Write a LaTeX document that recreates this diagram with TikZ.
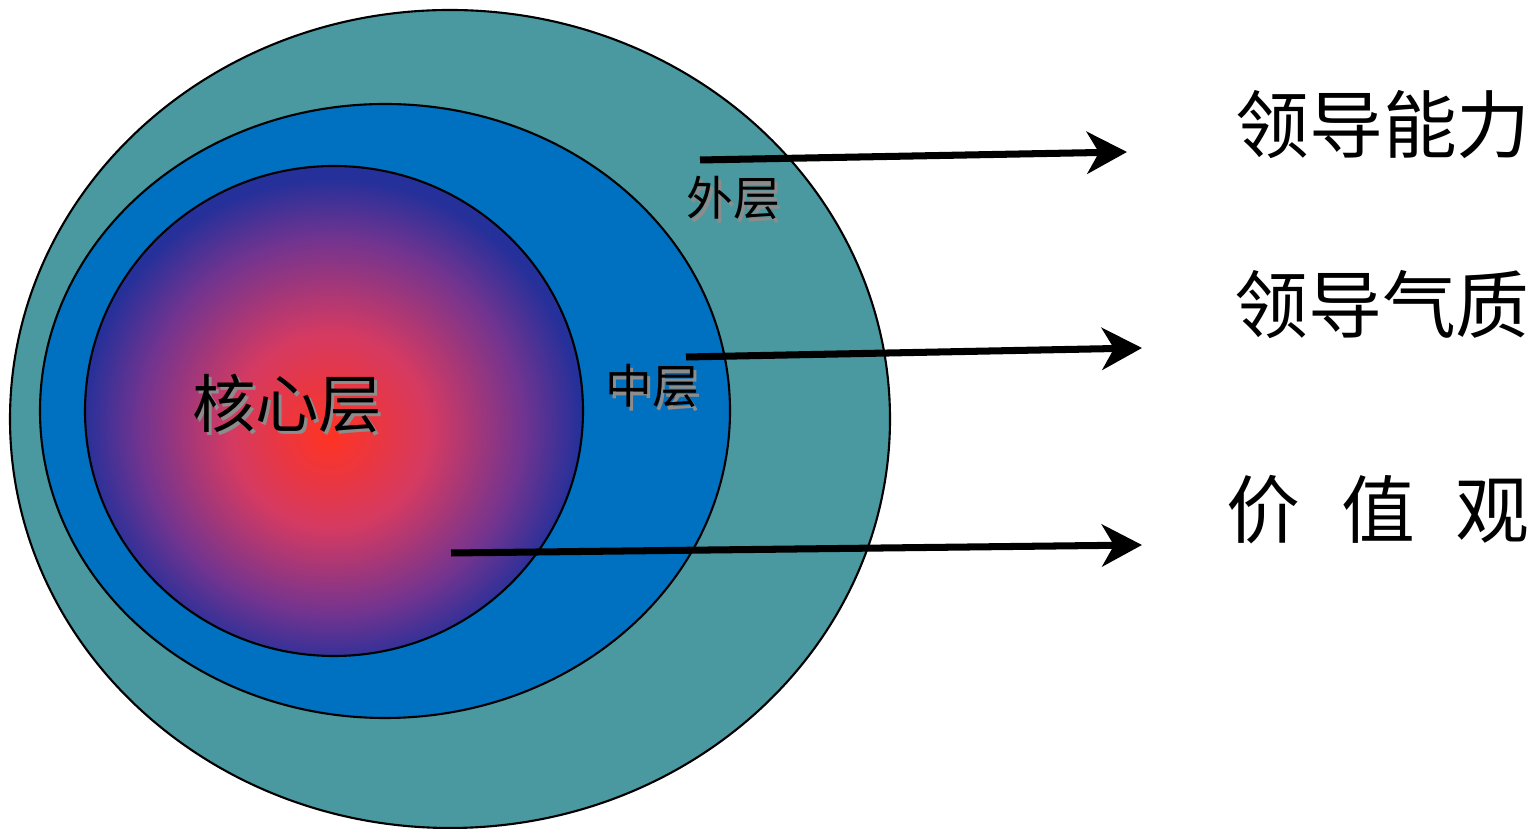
\documentclass[tikz,border=0pt]{standalone}
\usepackage{fontspec}
\newfontfamily\cjk{Noto Sans CJK SC}
\usetikzlibrary{arrows.meta,positioning}
\definecolor{outerteal}{HTML}{4A99A0}
\definecolor{midblue}{HTML}{0070C0}
\definecolor{corered}{HTML}{FF3322}
\definecolor{coremid}{HTML}{D43A62}
\definecolor{corepurple}{HTML}{74348F}
\definecolor{coreblue}{HTML}{25309A}
\pgfdeclareradialshading{coreglow}{\pgfpoint{-0.5bp}{-2.5bp}}{%
  color(0bp)=(corered);color(10bp)=(coremid);color(19bp)=(corepurple);
  color(25bp)=(coreblue);color(50bp)=(coreblue)}
% label with a soft drop shadow
\newcommand{\shadowtext}[1]{\rlap{\kern0.9pt\raisebox{-0.9pt}{\color{black!45}#1}}#1}

\begin{document}
\begin{tikzpicture}[
  layer/.style={draw=black,line width=0.6pt},
  tag/.style={font=\cjk\fontsize{13.3pt}{13.3pt}\selectfont,inner sep=0pt},
  trait/.style={font=\cjk\fontsize{21pt}{21pt}\selectfont,inner sep=0pt},
  flow/.style={-{Stealth[length=4mm,width=4.2mm,inset=1.2mm]},line width=2pt}]
\useasboundingbox (0,0) rectangle (15.39,8.29);
\filldraw[layer,fill=outerteal] (4.50,4.10) ellipse [x radius=4.40,y radius=4.09];
\filldraw[layer,fill=midblue] (3.85,4.18) ellipse [x radius=3.45,y radius=3.07];
\draw[layer,shading=coreglow] (3.34,4.18) ellipse [x radius=2.49,y radius=2.45];
\node[tag] (outer) at (7.33,6.29) {\shadowtext{外层}};
\node[tag] (middle) at (6.52,4.41) {\shadowtext{中层}};
\node[tag,font=\cjk\fontsize{18pt}{18pt}\selectfont] (core) at (2.87,4.24) {\shadowtext{核心层}};
\node[trait] (ability) at (13.83,7.04) {领导能力};
\node[trait] (temper) at (13.82,5.24) {领导气质};
\node[trait] (values) at (13.78,3.19) {价\hspace{0.41cm}值\hspace{0.41cm}观};
\coordinate (a1) at (7.00,6.69);
\coordinate (a2) at (11.27,6.77);
\coordinate (b1) at (6.86,4.72);
\coordinate (b2) at (11.42,4.81);
\coordinate (c1) at (4.51,2.76);
\coordinate (c2) at (11.42,2.84);
\draw[flow] (a1) -- (a2);
\draw[flow] (b1) -- (b2);
\draw[flow] (c1) -- (c2);
\end{tikzpicture}
\end{document}
